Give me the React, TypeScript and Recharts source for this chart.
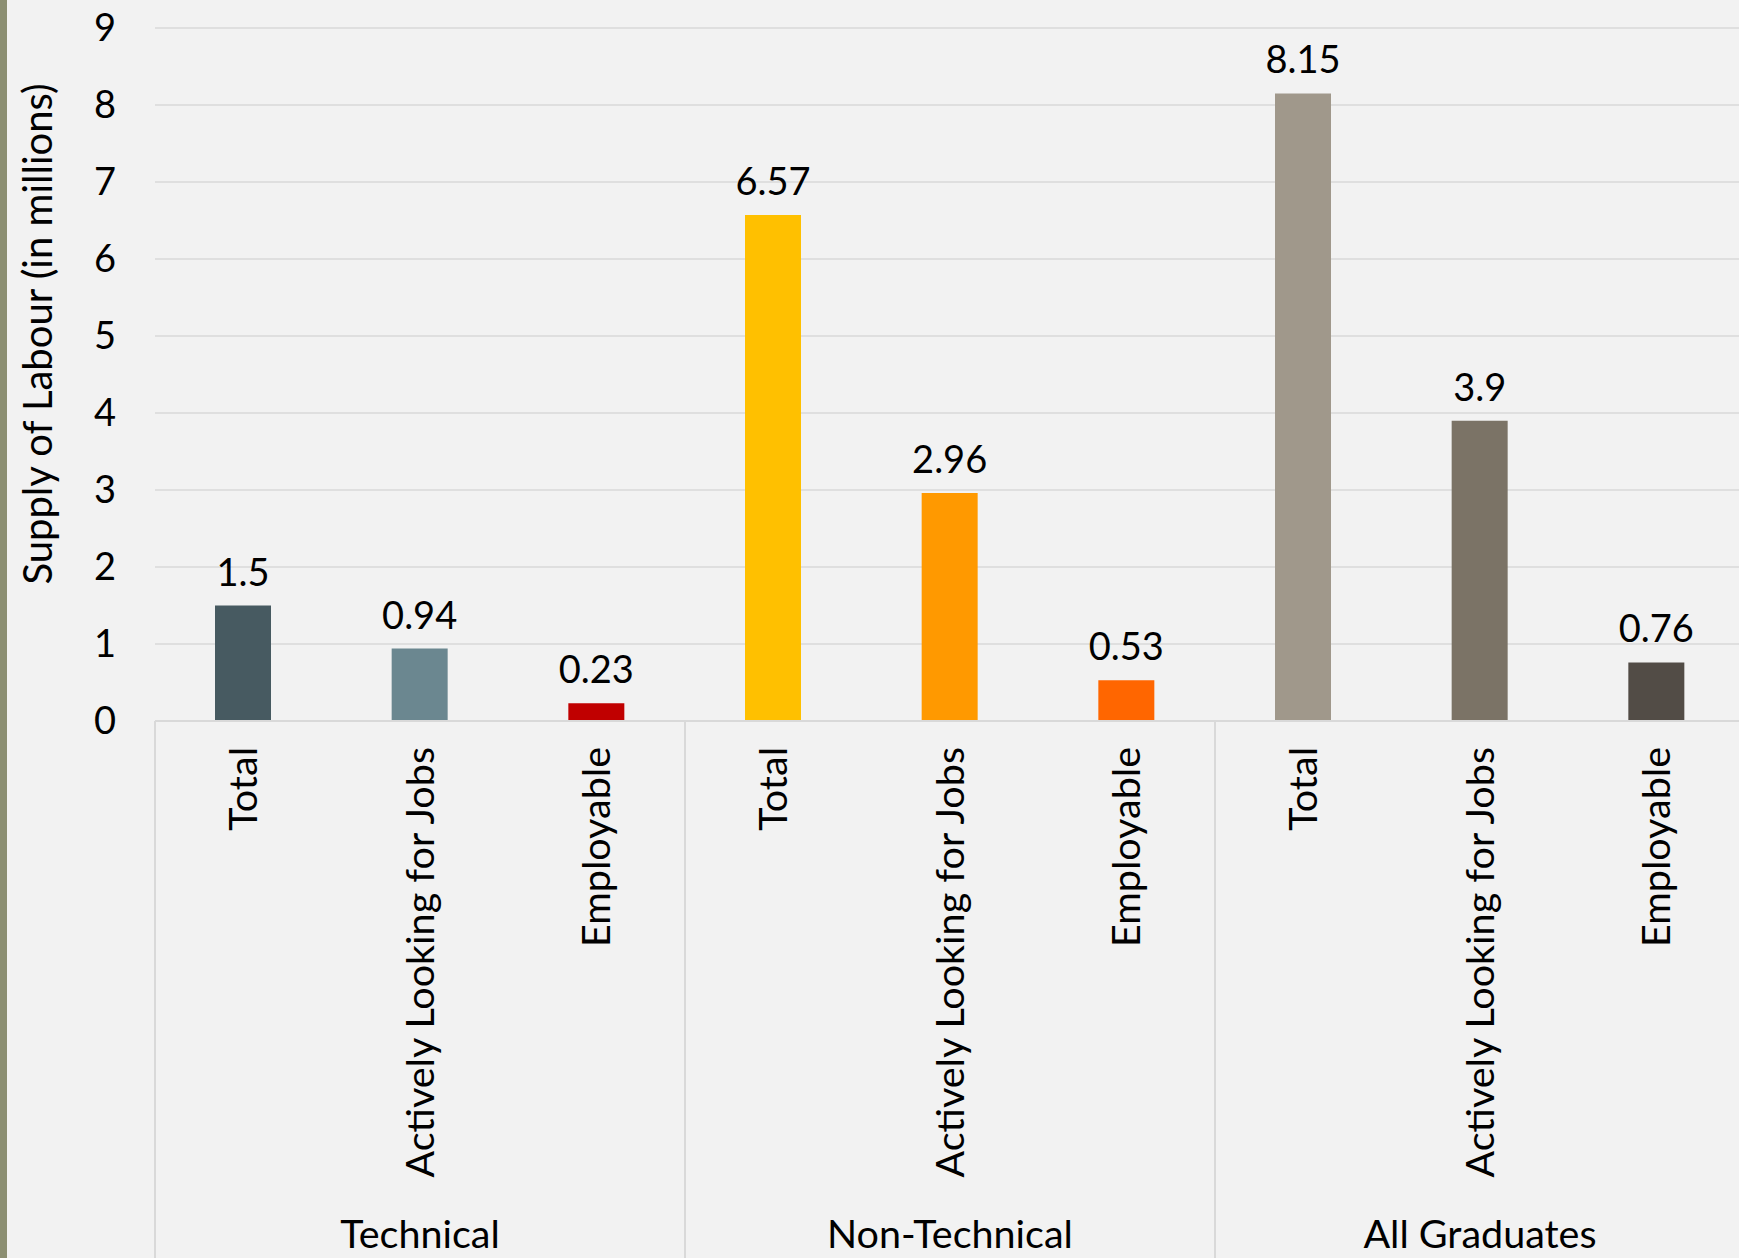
import React from "react";
import { BarChart, Bar, XAxis, YAxis, CartesianGrid, Cell, LabelList, Label } from "recharts";

const groups = ["Technical", "Technical", "Technical", "Non-Technical", "Non-Technical", "Non-Technical", "All Graduates", "All Graduates", "All Graduates"];
const categories = ["Total", "Actively Looking for Jobs", "Employable", "Total", "Actively Looking for Jobs", "Employable", "Total", "Actively Looking for Jobs", "Employable"];
const values = [1.5, 0.94, 0.23, 6.57, 2.96, 0.53, 8.15, 3.9, 0.76];
const colors = ["#475A61", "#6B8790", "#C00000", "#FFC000", "#FF9900", "#FF6600", "#A0988B", "#7B7366", "#524C46"];
const yTicks = [0, 1, 2, 3, 4, 5, 6, 7, 8, 9];
const yTitle = "Supply of Labour (in millions)";

const data = categories.map((c, i) => ({ key: `${groups[i]}|${c}|${i}`, label: c, group: groups[i], value: values[i] }));

const FONT = "Lato, 'DejaVu Sans', sans-serif";
const FS = 38;
const CAT_FS = 39.5;
const MAIN_AXIS_H = 470;
const GROUP_AXIS_H = 67;

const MainTick = (props: any) => {
  const { x, y, payload } = props;
  const d = data[payload.index];
  const ty = y + 26;
  return (
    <text x={x} y={ty} transform={`rotate(-90, ${x}, ${ty})`} textAnchor="end" dy="0.35em" fontSize={CAT_FS} fontFamily={FONT} fill="#000">
      {d ? d.label : payload.value}
    </text>
  );
};

const GroupTick = (props: any) => {
  const { x, y, payload } = props;
  const half = payload && typeof payload.offset === "number" && payload.offset > 0 ? payload.offset : 265;
  const top = y - MAIN_AXIS_H;
  const bottom = y + GROUP_AXIS_H + 10;
  return (
    <g>
      <line x1={x - half} x2={x - half} y1={top} y2={bottom} stroke="#D9D9D9" strokeWidth={2} />
      <line x1={x + half} x2={x + half} y1={top} y2={bottom} stroke="#D9D9D9" strokeWidth={2} />
      <text x={x} y={y + 57} textAnchor="middle" fontSize={CAT_FS} fontFamily={FONT} fill="#000">
        {payload.value}
      </text>
    </g>
  );
};

const YTitle = () => (
  <text x={52} y={334} transform="rotate(-90, 52, 334)" textAnchor="middle" fontSize={40} fontFamily={FONT} fill="#000">
    {yTitle}
  </text>
);

export default function App() {
  return (
    <div style={{ position: "absolute", left: 0, top: 0, width: 1739, height: 1258, overflow: "hidden", background: "#F2F2F2" }}>
      <div style={{ position: "absolute", left: 0, top: 0, width: 7, height: 1258, background: "#8C8F72", zIndex: 2 }} />
      <BarChart width={1760} height={1258} data={data} margin={{ top: 28, right: 15, left: 0, bottom: 0 }}>
        <CartesianGrid vertical={false} stroke="#D9D9D9" strokeWidth={1.5} />
        <XAxis
          dataKey="key"
          height={MAIN_AXIS_H}
          interval={0}
          axisLine={{ stroke: "#D9D9D9", strokeWidth: 2 }}
          tickLine={false}
          tickSize={0}
          tickMargin={0}
          tick={<MainTick />}
        />
        <XAxis
          xAxisId="group"
          dataKey="group"
          allowDuplicatedCategory={false}
          height={GROUP_AXIS_H}
          interval={0}
          axisLine={false}
          tickLine={false}
          tickSize={0}
          tickMargin={0}
          tick={<GroupTick />}
        />
        <YAxis
          width={155}
          domain={[0, 9]}
          ticks={yTicks}
          interval={0}
          axisLine={false}
          tickLine={false}
          tickSize={0}
          tickMargin={39}
          tick={{ fontSize: FS, fontFamily: FONT, fill: "#000" }}
        >
          <Label content={<YTitle />} />
        </YAxis>
        <Bar dataKey="value" barSize={56} isAnimationActive={false}>
          {values.map((v, i) => (
            <Cell key={i} fill={colors[i]} />
          ))}
          <LabelList dataKey="value" position="top" offset={20} fontSize={FS} fontFamily={FONT} fill="#000" />
        </Bar>
      </BarChart>
    </div>
  );
}
